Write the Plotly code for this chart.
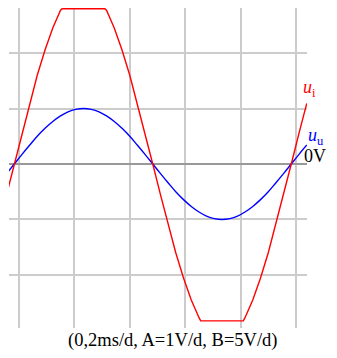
import plotly.graph_objects as go

# time in ms (0.2 ms per division)
t_u = [-0.045, -0.017, 0.011, 0.039, 0.066, 0.094, 0.122, 0.150, 0.177, 0.205,
       0.233, 0.261, 0.289, 0.316, 0.344, 0.372, 0.400, 0.427, 0.455, 0.483,
       0.511, 0.539, 0.566, 0.594, 0.622, 0.650, 0.677, 0.705, 0.733, 0.761,
       0.789, 0.816, 0.844, 0.872, 0.900, 0.927, 0.955, 0.983, 1.011, 1.039]
# input voltage u_u in V (channel A = 1 V/div)
u_u = [-0.174, 0.0, 0.174, 0.342, 0.5, 0.643, 0.766, 0.866, 0.940, 0.985,
       1.0, 0.985, 0.940, 0.866, 0.766, 0.643, 0.5, 0.342, 0.174, 0.0,
       -0.174, -0.342, -0.5, -0.643, -0.766, -0.866, -0.940, -0.985, -1.0, -0.985,
       -0.940, -0.866, -0.766, -0.643, -0.5, -0.342, -0.174, 0.0, 0.174, 0.342]

t_i = [-0.045, -0.017, 0.011, 0.039, 0.066, 0.094, 0.122, 0.150, 0.156, 0.310,
       0.316, 0.344, 0.372, 0.400, 0.427, 0.455, 0.483, 0.511, 0.539, 0.566,
       0.594, 0.622, 0.650, 0.656, 0.810, 0.816, 0.844, 0.872, 0.900, 0.927,
       0.955, 0.983, 1.011, 1.039]
# output voltage u_i in V (channel B = 5 V/div), clipped
u_i = [-2.78, 0.0, 2.78, 5.47, 8.00, 10.28, 12.26, 13.86, 14.0, 14.0,
       13.86, 12.26, 10.28, 8.00, 5.47, 2.78, 0.0, -2.78, -5.47, -8.00,
       -10.28, -12.26, -13.86, -14.15, -14.15, -13.86, -12.26, -10.28, -8.00, -5.47,
       -2.78, 0.0, 2.78, 5.47]

x_ticks = [0, 0.2, 0.4, 0.6, 0.8, 1.0]
caption = "(0,2ms/d, A=1V/d, B=5V/d)"

SERIF = "Liberation Serif, Times New Roman, serif"
ylo, yhi = -2.958, 2.813

fig = go.Figure()
fig.add_trace(go.Scatter(x=t_u, y=u_u, mode="lines", line=dict(color="#0000ff", width=1.4, shape="spline"),
                         yaxis="y", hoverinfo="skip"))
fig.add_trace(go.Scatter(x=t_i, y=u_i, mode="lines", line=dict(color="#ff0000", width=1.4),
                         yaxis="y2", hoverinfo="skip"))

fig.update_layout(
    width=329, height=342,
    margin=dict(l=1, r=30, t=0, b=22),
    paper_bgcolor="white", plot_bgcolor="white",
    showlegend=False,
    xaxis=dict(range=[-0.036, 1.0398], tickvals=x_ticks, showticklabels=False,
               showgrid=True, gridcolor="#cccccc", gridwidth=2, zeroline=False,
               showline=False, ticks=""),
    yaxis=dict(range=[ylo, yhi], tick0=0, dtick=1, showticklabels=False,
               showgrid=True, gridcolor="#cccccc", gridwidth=2,
               zeroline=True, zerolinecolor="#999999", zerolinewidth=2,
               showline=False, ticks=""),
    yaxis2=dict(range=[ylo * 5, yhi * 5], overlaying="y", showgrid=False,
                zeroline=False, showticklabels=False, ticks=""),
)

fig.add_annotation(x=0.984, y=0.747, xref="paper", yref="paper", xanchor="left", yanchor="middle",
                   text="<i>u</i><sub>i</sub>", showarrow=False, borderpad=0,
                   font=dict(family=SERIF, size=18, color="#ff0000"))
fig.add_annotation(x=1.000, y=0.600, xref="paper", yref="paper", xanchor="left", yanchor="middle",
                   text="<i>u</i><sub>u</sub>", showarrow=False, borderpad=0,
                   font=dict(family=SERIF, size=18, color="#0000ff"))
fig.add_annotation(x=1.068, y=0.538, xref="paper", yref="paper", xanchor="right", yanchor="middle",
                   text="0V", showarrow=False, borderpad=0,
                   font=dict(family=SERIF, size=18, color="#000000"))
fig.add_annotation(x=0.550, y=0, xref="paper", yref="paper", xanchor="center", yanchor="middle",
                   yshift=-12, text=caption, showarrow=False, borderpad=0,
                   font=dict(family=SERIF, size=18.5, color="#000000"))

fig.write_html("out.html")
